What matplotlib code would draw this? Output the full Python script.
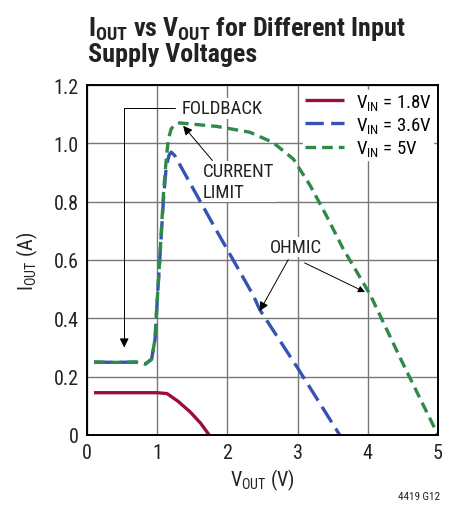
import matplotlib
matplotlib.use('Agg')
import matplotlib.pyplot as plt

plt.rcParams['font.family'] = ['Roboto Condensed', 'DejaVu Sans']
plt.rcParams['mathtext.fontset'] = 'custom'
plt.rcParams['mathtext.rm'] = 'Roboto Condensed'

# VIN = 1.8V
v18 = [0.1, 0.5, 1.0, 1.14, 1.3, 1.47, 1.62, 1.74]
i18 = [0.145, 0.145, 0.145, 0.142, 0.115, 0.079, 0.04, 0.0]
# VIN = 3.6V
v36 = [0.1, 0.4, 0.7, 0.83, 0.92, 0.97, 0.99, 1.04, 1.09, 1.13, 1.17, 1.2, 1.25, 1.8, 2.37, 2.46, 3.0, 3.6]
i36 = [0.25, 0.249, 0.25, 0.243, 0.26, 0.33, 0.42, 0.615, 0.81, 0.923, 0.96, 0.97, 0.958, 0.72, 0.478, 0.43, 0.23, 0.0]
# VIN = 5V
v5 = [0.1, 0.4, 0.7, 0.83, 0.92, 0.97, 0.99, 1.04, 1.09, 1.13, 1.16, 1.2, 1.26, 1.32, 1.85, 2.32, 2.65, 2.94, 3.18, 3.41, 3.65, 4.03, 4.5, 5.0]
i5 = [0.25, 0.249, 0.25, 0.243, 0.26, 0.33, 0.42, 0.62, 0.83, 0.95, 1.015, 1.05, 1.066, 1.07, 1.058, 1.038, 1.003, 0.946, 0.855, 0.752, 0.638, 0.483, 0.245, 0.0]

labels = ['$\\mathregular{V_{IN}}$ = 1.8V', '$\\mathregular{V_{IN}}$ = 3.6V', '$\\mathregular{V_{IN}}$ = 5V']
xticks = [0, 1, 2, 3, 4, 5]
yticks = [0, 0.2, 0.4, 0.6, 0.8, 1.0, 1.2]
yticklabels = ['0', '0.2', '0.4', '0.6', '0.8', '1.0', '1.2']

fig = plt.figure(figsize=(4.52, 5.06), dpi=100)
ax = fig.add_axes([87/452, 1-436/506, 351/452, 350/506])

ax.plot(v18, i18, color='#9a0f3a', lw=2.4, solid_capstyle='butt', label=labels[0])
ax.plot(v36, i36, color='#3553b3', lw=2.4, dashes=(5.5, 2.2), label=labels[1])
ax.plot(v5, i5, color='#2f8a47', lw=2.4, dashes=(3.2, 1.8), label=labels[2])

ax.set_xlim(0, 5)
ax.set_ylim(0, 1.2)
ax.set_xticks(xticks)
ax.set_yticks(yticks)
ax.set_yticklabels(yticklabels)
ax.tick_params(length=0, labelsize=14.5, pad=6, colors='#222222')
ax.grid(True, color='#777777', lw=1)
for s in ax.spines.values():
    s.set_linewidth(1.4)

ax.set_xlabel('$\\mathregular{V_{OUT}}$ (V)', fontsize=14.5, labelpad=3, color='#222222')
ax.set_ylabel('$\\mathregular{I_{OUT}}$ (A)', fontsize=14.5, labelpad=10, color='#222222')

leg = ax.legend(loc='upper right', fontsize=13.5, frameon=True, handlelength=2.1,
                borderaxespad=0.25, borderpad=0.1, labelspacing=0.18, handletextpad=0.6, fancybox=False)
leg.get_frame().set_edgecolor('white')
leg.get_frame().set_alpha(1)

bbox = dict(facecolor='white', edgecolor='none', pad=1)
ax.annotate('FOLDBACK', xy=(0.53, 0.3), xytext=(1.35, 1.12), fontsize=13.5,
            va='center', ha='left', bbox=bbox, color='#222222',
            arrowprops=dict(arrowstyle='-|>', color='black', lw=0.7,
                            connectionstyle='angle,angleA=0,angleB=90,rad=0',
                            shrinkA=4, shrinkB=0))
ax.annotate('CURRENT\nLIMIT', xy=(1.37, 1.06), xytext=(1.65, 0.87), fontsize=13.5,
            va='center', ha='left', linespacing=1.2, bbox=bbox, color='#222222',
            arrowprops=dict(arrowstyle='-|>', color='black', lw=0.7,
                            shrinkA=0, shrinkB=0, relpos=(0.15, 1.0)))
ax.annotate('OHMIC', xy=(2.46, 0.425), xytext=(2.6, 0.645), fontsize=13.5,
            va='center', ha='left', bbox=bbox, color='#222222',
            arrowprops=dict(arrowstyle='-|>', color='black', lw=0.7,
                            shrinkA=2, shrinkB=0, relpos=(0.4, 0.0)))
ax.annotate('', xy=(3.96, 0.49), xytext=(3.1, 0.59),
            arrowprops=dict(arrowstyle='-|>', color='black', lw=0.7,
                            shrinkA=0, shrinkB=0))

fig.text(88/452, 1-62/506, '$\\mathregular{I_{OUT}}$ vs $\\mathregular{V_{OUT}}$ for Different Input\nSupply Voltages',
         fontsize=18.7, fontweight='bold', ha='left', va='baseline', linespacing=1.0, color='#222222')
fig.text(440/452, 1-500/506, '4419 G12', fontsize=8, ha='right', va='baseline', color='#222222')

fig.savefig('out.png', dpi=100)
